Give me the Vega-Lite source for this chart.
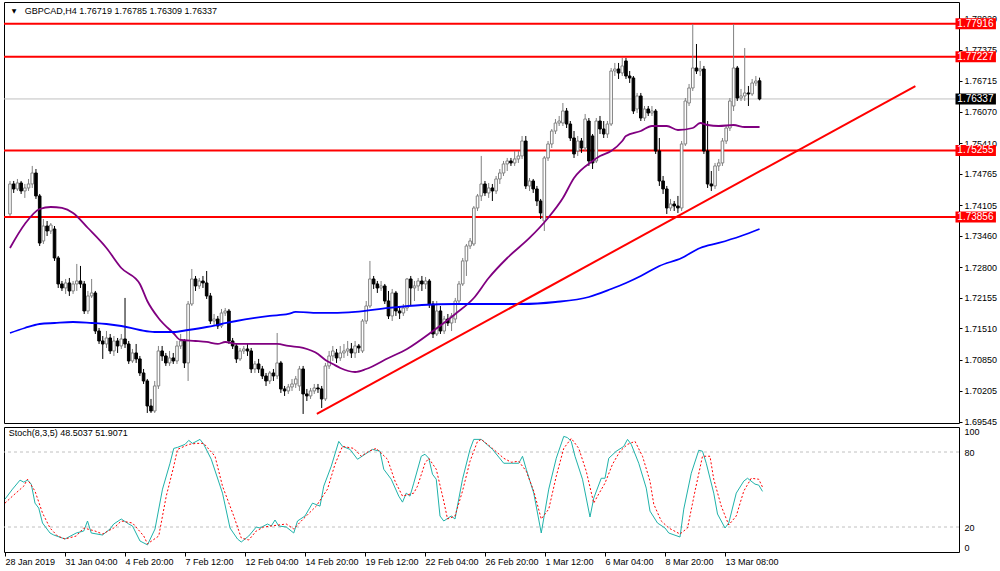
{
"$schema":"https://vega.github.io/schema/vega-lite/v6.json",
"padding":{"left":2,"top":1,"right":0,"bottom":0},
"background":"white",
"spacing":4,
"bounds":"flush",
"config":{"view":{"stroke":"#000000","strokeWidth":1},"font":"Liberation Sans","axis":{"labelFont":"Liberation Sans","labelFontSize":9,"labelColor":"#000000","tickColor":"#000000"}},
"datasets":{
"candles":[
{"i":0,"o":1.73918,"h":1.74612,"l":1.73876,"c":1.74549},
{"i":1,"o":1.74549,"h":1.74612,"l":1.74360,"c":1.74444},
{"i":2,"o":1.74444,"h":1.74654,"l":1.74402,"c":1.74570},
{"i":3,"o":1.74570,"h":1.74612,"l":1.74339,"c":1.74402},
{"i":4,"o":1.74402,"h":1.74549,"l":1.74255,"c":1.74465},
{"i":5,"o":1.74465,"h":1.74654,"l":1.74402,"c":1.74549},
{"i":6,"o":1.74549,"h":1.74928,"l":1.74465,"c":1.74780},
{"i":7,"o":1.74780,"h":1.74864,"l":1.74234,"c":1.74297},
{"i":8,"o":1.74297,"h":1.74339,"l":1.73245,"c":1.73307},
{"i":9,"o":1.73350,"h":1.73812,"l":1.73287,"c":1.73665},
{"i":10,"o":1.73665,"h":1.73770,"l":1.73455,"c":1.73560},
{"i":11,"o":1.73560,"h":1.73728,"l":1.73497,"c":1.73686},
{"i":12,"o":1.73602,"h":1.73665,"l":1.72930,"c":1.72993},
{"i":13,"o":1.72993,"h":1.73035,"l":1.72362,"c":1.72446},
{"i":14,"o":1.72446,"h":1.72509,"l":1.72299,"c":1.72362},
{"i":15,"o":1.72362,"h":1.72551,"l":1.72236,"c":1.72467},
{"i":16,"o":1.72467,"h":1.72572,"l":1.72194,"c":1.72299},
{"i":17,"o":1.72299,"h":1.72509,"l":1.72236,"c":1.72446},
{"i":18,"o":1.72446,"h":1.72867,"l":1.72299,"c":1.72509},
{"i":19,"o":1.72509,"h":1.72825,"l":1.72362,"c":1.72446},
{"i":20,"o":1.72446,"h":1.72509,"l":1.71815,"c":1.71878},
{"i":21,"o":1.71878,"h":1.72299,"l":1.71815,"c":1.72194},
{"i":22,"o":1.72194,"h":1.72551,"l":1.72152,"c":1.72257},
{"i":23,"o":1.72257,"h":1.72299,"l":1.71394,"c":1.71457},
{"i":24,"o":1.71457,"h":1.71520,"l":1.71184,"c":1.71247},
{"i":25,"o":1.71247,"h":1.71352,"l":1.70869,"c":1.71184},
{"i":26,"o":1.71184,"h":1.71457,"l":1.71100,"c":1.71310},
{"i":27,"o":1.71310,"h":1.71394,"l":1.70974,"c":1.71037},
{"i":28,"o":1.71037,"h":1.71352,"l":1.70932,"c":1.71247},
{"i":29,"o":1.71247,"h":1.71310,"l":1.70995,"c":1.71142},
{"i":30,"o":1.71142,"h":1.71394,"l":1.71079,"c":1.71289},
{"i":31,"o":1.71289,"h":1.72152,"l":1.71100,"c":1.71184},
{"i":32,"o":1.71184,"h":1.71247,"l":1.70764,"c":1.70827},
{"i":33,"o":1.70827,"h":1.71079,"l":1.70785,"c":1.70995},
{"i":34,"o":1.70995,"h":1.71184,"l":1.70785,"c":1.70869},
{"i":35,"o":1.70869,"h":1.70932,"l":1.70511,"c":1.70574},
{"i":36,"o":1.70574,"h":1.70658,"l":1.70343,"c":1.70406},
{"i":37,"o":1.70406,"h":1.70448,"l":1.69733,"c":1.69880},
{"i":38,"o":1.69880,"h":1.70028,"l":1.69733,"c":1.69775},
{"i":39,"o":1.69775,"h":1.70406,"l":1.69733,"c":1.70301},
{"i":40,"o":1.70301,"h":1.71142,"l":1.70238,"c":1.71037},
{"i":41,"o":1.71037,"h":1.71142,"l":1.70827,"c":1.70932},
{"i":42,"o":1.70932,"h":1.70995,"l":1.70722,"c":1.70785},
{"i":43,"o":1.70785,"h":1.71037,"l":1.70722,"c":1.70890},
{"i":44,"o":1.70890,"h":1.70995,"l":1.70764,"c":1.70827},
{"i":45,"o":1.70827,"h":1.71247,"l":1.70764,"c":1.71142},
{"i":46,"o":1.71142,"h":1.71394,"l":1.71079,"c":1.71247},
{"i":47,"o":1.71247,"h":1.71289,"l":1.70679,"c":1.70785},
{"i":48,"o":1.70785,"h":1.72088,"l":1.70406,"c":1.72025},
{"i":49,"o":1.72025,"h":1.72761,"l":1.71983,"c":1.72551},
{"i":50,"o":1.72551,"h":1.72614,"l":1.72299,"c":1.72404},
{"i":51,"o":1.72404,"h":1.72572,"l":1.72341,"c":1.72509},
{"i":52,"o":1.72509,"h":1.72614,"l":1.72362,"c":1.72467},
{"i":53,"o":1.72467,"h":1.72719,"l":1.72131,"c":1.72194},
{"i":54,"o":1.72194,"h":1.72257,"l":1.71604,"c":1.71667},
{"i":55,"o":1.71667,"h":1.71815,"l":1.71562,"c":1.71709},
{"i":56,"o":1.71709,"h":1.71773,"l":1.71499,"c":1.71562},
{"i":57,"o":1.71562,"h":1.71920,"l":1.71520,"c":1.71836},
{"i":58,"o":1.71836,"h":1.71941,"l":1.71773,"c":1.71878},
{"i":59,"o":1.71878,"h":1.71920,"l":1.71184,"c":1.71247},
{"i":60,"o":1.71247,"h":1.71310,"l":1.71079,"c":1.71142},
{"i":61,"o":1.71142,"h":1.71184,"l":1.70785,"c":1.70869},
{"i":62,"o":1.70869,"h":1.71100,"l":1.70827,"c":1.71037},
{"i":63,"o":1.71037,"h":1.71142,"l":1.70974,"c":1.71079},
{"i":64,"o":1.71079,"h":1.71184,"l":1.70932,"c":1.71037},
{"i":65,"o":1.71037,"h":1.71100,"l":1.70574,"c":1.70658},
{"i":66,"o":1.70658,"h":1.70827,"l":1.70574,"c":1.70764},
{"i":67,"o":1.70764,"h":1.70869,"l":1.70574,"c":1.70658},
{"i":68,"o":1.70658,"h":1.70722,"l":1.70448,"c":1.70511},
{"i":69,"o":1.70511,"h":1.70574,"l":1.70301,"c":1.70406},
{"i":70,"o":1.70406,"h":1.70616,"l":1.70343,"c":1.70574},
{"i":71,"o":1.70574,"h":1.70658,"l":1.70406,"c":1.70511},
{"i":72,"o":1.70511,"h":1.71415,"l":1.70448,"c":1.70785},
{"i":73,"o":1.70785,"h":1.70827,"l":1.70154,"c":1.70238},
{"i":74,"o":1.70238,"h":1.70301,"l":1.70091,"c":1.70196},
{"i":75,"o":1.70196,"h":1.70343,"l":1.70133,"c":1.70280},
{"i":76,"o":1.70280,"h":1.70448,"l":1.70196,"c":1.70343},
{"i":77,"o":1.70343,"h":1.70511,"l":1.70259,"c":1.70448},
{"i":78,"o":1.70301,"h":1.70722,"l":1.70196,"c":1.70658},
{"i":79,"o":1.70658,"h":1.70722,"l":1.69712,"c":1.70133},
{"i":80,"o":1.70133,"h":1.70238,"l":1.69985,"c":1.70091},
{"i":81,"o":1.70091,"h":1.70259,"l":1.70028,"c":1.70196},
{"i":82,"o":1.70196,"h":1.70343,"l":1.70133,"c":1.70259},
{"i":83,"o":1.70259,"h":1.70343,"l":1.70154,"c":1.70238},
{"i":84,"o":1.70238,"h":1.70301,"l":1.69838,"c":1.70028},
{"i":85,"o":1.70028,"h":1.70785,"l":1.69985,"c":1.70722},
{"i":86,"o":1.70722,"h":1.71037,"l":1.70658,"c":1.70932},
{"i":87,"o":1.70932,"h":1.71142,"l":1.70827,"c":1.71037},
{"i":88,"o":1.70995,"h":1.71079,"l":1.70785,"c":1.70890},
{"i":89,"o":1.70890,"h":1.71142,"l":1.70827,"c":1.70995},
{"i":90,"o":1.70995,"h":1.71184,"l":1.70890,"c":1.71037},
{"i":91,"o":1.71037,"h":1.71247,"l":1.70932,"c":1.71079},
{"i":92,"o":1.71079,"h":1.71205,"l":1.70890,"c":1.70995},
{"i":93,"o":1.70995,"h":1.71247,"l":1.70890,"c":1.71142},
{"i":94,"o":1.71142,"h":1.71184,"l":1.70995,"c":1.71100},
{"i":95,"o":1.71037,"h":1.71709,"l":1.70995,"c":1.71667},
{"i":96,"o":1.71667,"h":1.72088,"l":1.71604,"c":1.71983},
{"i":97,"o":1.71983,"h":1.72930,"l":1.71941,"c":1.72551},
{"i":98,"o":1.72551,"h":1.72614,"l":1.72341,"c":1.72446},
{"i":99,"o":1.72446,"h":1.72509,"l":1.72257,"c":1.72362},
{"i":100,"o":1.72362,"h":1.72509,"l":1.72299,"c":1.72404},
{"i":101,"o":1.72404,"h":1.72446,"l":1.72025,"c":1.72088},
{"i":102,"o":1.72088,"h":1.72299,"l":1.71709,"c":1.71773},
{"i":103,"o":1.71773,"h":1.72341,"l":1.71667,"c":1.72257},
{"i":104,"o":1.72257,"h":1.72299,"l":1.71773,"c":1.71878},
{"i":105,"o":1.71878,"h":1.71983,"l":1.71709,"c":1.71836},
{"i":106,"o":1.71836,"h":1.72025,"l":1.71773,"c":1.71941},
{"i":107,"o":1.71941,"h":1.72572,"l":1.71878,"c":1.72551},
{"i":108,"o":1.72551,"h":1.72614,"l":1.71983,"c":1.72362},
{"i":109,"o":1.72362,"h":1.72509,"l":1.72088,"c":1.72404},
{"i":110,"o":1.72404,"h":1.72572,"l":1.72299,"c":1.72509},
{"i":111,"o":1.72509,"h":1.72614,"l":1.72299,"c":1.72446},
{"i":112,"o":1.72446,"h":1.72593,"l":1.72341,"c":1.72509},
{"i":113,"o":1.72509,"h":1.72551,"l":1.71941,"c":1.72025},
{"i":114,"o":1.72025,"h":1.72088,"l":1.71310,"c":1.71394},
{"i":115,"o":1.71394,"h":1.72088,"l":1.71352,"c":1.71878},
{"i":116,"o":1.71878,"h":1.71983,"l":1.71394,"c":1.71457},
{"i":117,"o":1.71457,"h":1.71773,"l":1.71394,"c":1.71709},
{"i":118,"o":1.71709,"h":1.71815,"l":1.71562,"c":1.71625},
{"i":119,"o":1.71625,"h":1.71836,"l":1.71457,"c":1.71773},
{"i":120,"o":1.71709,"h":1.72152,"l":1.71625,"c":1.72088},
{"i":121,"o":1.72088,"h":1.72509,"l":1.72025,"c":1.72446},
{"i":122,"o":1.72446,"h":1.72993,"l":1.72404,"c":1.72930},
{"i":123,"o":1.72930,"h":1.73287,"l":1.72614,"c":1.73245},
{"i":124,"o":1.73245,"h":1.73413,"l":1.73182,"c":1.73350},
{"i":125,"o":1.73287,"h":1.74086,"l":1.73245,"c":1.74044},
{"i":126,"o":1.74044,"h":1.74339,"l":1.73981,"c":1.74297},
{"i":127,"o":1.74297,"h":1.75138,"l":1.74191,"c":1.74549},
{"i":128,"o":1.74549,"h":1.74612,"l":1.74297,"c":1.74360},
{"i":129,"o":1.74360,"h":1.74570,"l":1.74255,"c":1.74465},
{"i":130,"o":1.74465,"h":1.74549,"l":1.74191,"c":1.74402},
{"i":131,"o":1.74402,"h":1.74717,"l":1.74339,"c":1.74654},
{"i":132,"o":1.74654,"h":1.74864,"l":1.74549,"c":1.74780},
{"i":133,"o":1.74780,"h":1.75033,"l":1.74717,"c":1.74970},
{"i":134,"o":1.74970,"h":1.75096,"l":1.74822,"c":1.75033},
{"i":135,"o":1.75033,"h":1.75096,"l":1.74928,"c":1.74991},
{"i":136,"o":1.74991,"h":1.75243,"l":1.74928,"c":1.75075},
{"i":137,"o":1.75075,"h":1.75243,"l":1.74991,"c":1.75138},
{"i":138,"o":1.75138,"h":1.75558,"l":1.75075,"c":1.75453},
{"i":139,"o":1.75453,"h":1.75558,"l":1.74444,"c":1.74507},
{"i":140,"o":1.74507,"h":1.74675,"l":1.74402,"c":1.74612},
{"i":141,"o":1.74612,"h":1.74654,"l":1.74360,"c":1.74444},
{"i":142,"o":1.74444,"h":1.74507,"l":1.74086,"c":1.74191},
{"i":143,"o":1.74191,"h":1.74234,"l":1.73812,"c":1.73939},
{"i":144,"o":1.73770,"h":1.75138,"l":1.73560,"c":1.75096},
{"i":145,"o":1.75096,"h":1.75453,"l":1.75033,"c":1.75390},
{"i":146,"o":1.75390,"h":1.75705,"l":1.75306,"c":1.75663},
{"i":147,"o":1.75663,"h":1.75915,"l":1.75600,"c":1.75831},
{"i":148,"o":1.75831,"h":1.75979,"l":1.75768,"c":1.75873},
{"i":149,"o":1.75831,"h":1.76252,"l":1.75768,"c":1.76084},
{"i":150,"o":1.76084,"h":1.76147,"l":1.75726,"c":1.75810},
{"i":151,"o":1.75810,"h":1.75873,"l":1.75453,"c":1.75516},
{"i":152,"o":1.75516,"h":1.75663,"l":1.75096,"c":1.75180},
{"i":153,"o":1.75243,"h":1.75558,"l":1.75138,"c":1.75453},
{"i":154,"o":1.75453,"h":1.75516,"l":1.75201,"c":1.75306},
{"i":155,"o":1.75306,"h":1.76021,"l":1.75243,"c":1.75915},
{"i":156,"o":1.75873,"h":1.75936,"l":1.74928,"c":1.75033},
{"i":157,"o":1.75558,"h":1.75600,"l":1.74864,"c":1.74991},
{"i":158,"o":1.75033,"h":1.75936,"l":1.74991,"c":1.75873},
{"i":159,"o":1.75873,"h":1.75979,"l":1.75600,"c":1.75705},
{"i":160,"o":1.75705,"h":1.75873,"l":1.75516,"c":1.75600},
{"i":161,"o":1.75600,"h":1.75873,"l":1.75516,"c":1.75810},
{"i":162,"o":1.75810,"h":1.76988,"l":1.75768,"c":1.76925},
{"i":163,"o":1.76925,"h":1.77094,"l":1.76820,"c":1.76967},
{"i":164,"o":1.76967,"h":1.77094,"l":1.76757,"c":1.76883},
{"i":165,"o":1.76883,"h":1.77199,"l":1.76820,"c":1.77031},
{"i":166,"o":1.77136,"h":1.77199,"l":1.76757,"c":1.76820},
{"i":167,"o":1.76820,"h":1.76925,"l":1.76673,"c":1.76778},
{"i":168,"o":1.76778,"h":1.76820,"l":1.76021,"c":1.76084},
{"i":169,"o":1.76126,"h":1.76463,"l":1.76042,"c":1.76400},
{"i":170,"o":1.76400,"h":1.76463,"l":1.75873,"c":1.75936},
{"i":171,"o":1.75936,"h":1.76189,"l":1.75873,"c":1.76126},
{"i":172,"o":1.76126,"h":1.76189,"l":1.75979,"c":1.76042},
{"i":173,"o":1.76042,"h":1.76189,"l":1.75979,"c":1.76084},
{"i":174,"o":1.76084,"h":1.76126,"l":1.75180,"c":1.75243},
{"i":175,"o":1.75243,"h":1.75516,"l":1.74507,"c":1.74612},
{"i":176,"o":1.74612,"h":1.74717,"l":1.74339,"c":1.74444},
{"i":177,"o":1.74444,"h":1.74507,"l":1.73918,"c":1.74044},
{"i":178,"o":1.74044,"h":1.74234,"l":1.73981,"c":1.74128},
{"i":179,"o":1.74128,"h":1.74191,"l":1.73981,"c":1.74086},
{"i":180,"o":1.74086,"h":1.74297,"l":1.73939,"c":1.74044},
{"i":181,"o":1.74044,"h":1.75453,"l":1.73981,"c":1.75390},
{"i":182,"o":1.75390,"h":1.76357,"l":1.75348,"c":1.76294},
{"i":183,"o":1.76252,"h":1.76652,"l":1.76189,"c":1.76568},
{"i":184,"o":1.76568,"h":1.77913,"l":1.76505,"c":1.76988},
{"i":185,"o":1.76988,"h":1.77493,"l":1.76862,"c":1.76925},
{"i":186,"o":1.76925,"h":1.77136,"l":1.76820,"c":1.76967},
{"i":187,"o":1.76967,"h":1.77031,"l":1.75180,"c":1.75243},
{"i":188,"o":1.75243,"h":1.75873,"l":1.74465,"c":1.74549},
{"i":189,"o":1.74549,"h":1.74822,"l":1.74402,"c":1.74507},
{"i":190,"o":1.74507,"h":1.74991,"l":1.74444,"c":1.74928},
{"i":191,"o":1.74928,"h":1.75075,"l":1.74822,"c":1.74991},
{"i":192,"o":1.74991,"h":1.75516,"l":1.74928,"c":1.75453},
{"i":193,"o":1.75453,"h":1.75768,"l":1.75390,"c":1.75726},
{"i":194,"o":1.75726,"h":1.76357,"l":1.75663,"c":1.76294},
{"i":195,"o":1.76189,"h":1.77913,"l":1.76084,"c":1.76988},
{"i":196,"o":1.76988,"h":1.77031,"l":1.76294,"c":1.76357},
{"i":197,"o":1.76357,"h":1.76547,"l":1.76294,"c":1.76400},
{"i":198,"o":1.76400,"h":1.77409,"l":1.76294,"c":1.76463},
{"i":199,"o":1.76463,"h":1.76610,"l":1.76189,"c":1.76442},
{"i":200,"o":1.76442,"h":1.76757,"l":1.76400,"c":1.76673},
{"i":201,"o":1.76673,"h":1.76820,"l":1.76610,"c":1.76715},
{"i":202,"o":1.76719,"h":1.76785,"l":1.76309,"c":1.76337}
],
"ma50":[
{"i":0,"v":1.73203},{"i":4,"v":1.73707},{"i":8,"v":1.74023},{"i":11,"v":1.74065},{"i":14,"v":1.74044},{"i":17,"v":1.73939},{"i":21,"v":1.73623},{"i":26,"v":1.73203},{"i":30,"v":1.72782},{"i":35,"v":1.72446},{"i":37,"v":1.72088},{"i":40,"v":1.71731},{"i":44,"v":1.71415},{"i":46,"v":1.71268},{"i":50,"v":1.71247},{"i":53,"v":1.71226},{"i":56,"v":1.71184},{"i":58,"v":1.71226},{"i":61,"v":1.71184},{"i":66,"v":1.71184},{"i":72,"v":1.71184},{"i":75,"v":1.71142},{"i":79,"v":1.71100},{"i":83,"v":1.70973},{"i":85,"v":1.70847},{"i":87,"v":1.70763},{"i":89,"v":1.70679},{"i":93,"v":1.70595},{"i":96,"v":1.70658},{"i":102,"v":1.70889},{"i":107,"v":1.71079},{"i":114,"v":1.71457},{"i":120,"v":1.71815},{"i":125,"v":1.72151},{"i":129,"v":1.72572},{"i":134,"v":1.72992},{"i":140,"v":1.73413},{"i":145,"v":1.73834},{"i":149,"v":1.74254},{"i":152,"v":1.74675},{"i":157,"v":1.75032},{"i":159,"v":1.75137},{"i":162,"v":1.75243},{"i":165,"v":1.75453},{"i":166,"v":1.75558},{"i":170,"v":1.75663},{"i":173,"v":1.75768},{"i":177,"v":1.75768},{"i":180,"v":1.75684},{"i":184,"v":1.75726},{"i":186,"v":1.75831},{"i":188,"v":1.75789},{"i":191,"v":1.75768},{"i":195,"v":1.75789},{"i":198,"v":1.75747},{"i":202,"v":1.75747}
],
"ma200":[
{"i":0,"v":1.71415},{"i":4,"v":1.71520},{"i":8,"v":1.71604},{"i":12,"v":1.71625},{"i":17,"v":1.71646},{"i":22,"v":1.71625},{"i":26,"v":1.71604},{"i":30,"v":1.71562},{"i":35,"v":1.71478},{"i":39,"v":1.71436},{"i":44,"v":1.71436},{"i":48,"v":1.71478},{"i":53,"v":1.71541},{"i":57,"v":1.71604},{"i":61,"v":1.71667},{"i":66,"v":1.71731},{"i":70,"v":1.71773},{"i":75,"v":1.71815},{"i":77,"v":1.71857},{"i":83,"v":1.71836},{"i":87,"v":1.71836},{"i":93,"v":1.71857},{"i":102,"v":1.71941},{"i":111,"v":1.72004},{"i":120,"v":1.72025},{"i":129,"v":1.72025},{"i":138,"v":1.72025},{"i":147,"v":1.72067},{"i":156,"v":1.72172},{"i":162,"v":1.72340},{"i":166,"v":1.72467},{"i":170,"v":1.72614},{"i":175,"v":1.72824},{"i":181,"v":1.72992},{"i":186,"v":1.73203},{"i":191,"v":1.73308},{"i":197,"v":1.73455},{"i":202,"v":1.73602}
],
"trend":[{"i":82.7,"v":1.69712},{"i":244,"v":1.76609}],
"tags":[{"price":1.77916,"kind":"level"},{"price":1.77227,"kind":"level"},{"price":1.75255,"kind":"level"},{"price":1.73856,"kind":"level"},{"price":1.76337,"kind":"bid"}],
"stochK":[
{"i":0,"v":42.3},{"i":2,"v":50.3},{"i":4,"v":57.5},{"i":5,"v":55.9},{"i":6,"v":57.5},{"i":7,"v":54.3},{"i":8,"v":39.1},{"i":9,"v":35.1},{"i":10,"v":23.2},{"i":12,"v":15.2},{"i":13,"v":13.6},{"i":16,"v":10.4},{"i":19,"v":15.2},{"i":21,"v":16.8},{"i":22,"v":24.8},{"i":23,"v":15.2},{"i":26,"v":13.6},{"i":28,"v":18.4},{"i":29,"v":22.4},{"i":31,"v":26.4},{"i":33,"v":22.4},{"i":34,"v":20.8},{"i":36,"v":8.8},{"i":38,"v":5.7},{"i":40,"v":18.4},{"i":42,"v":50.3},{"i":44,"v":71.0},{"i":45,"v":82.9},{"i":46,"v":83.7},{"i":48,"v":86.1},{"i":49,"v":89.3},{"i":50,"v":86.9},{"i":52,"v":90.1},{"i":53,"v":86.1},{"i":55,"v":74.2},{"i":58,"v":47.1},{"i":60,"v":19.2},{"i":62,"v":10.4},{"i":63,"v":8.0},{"i":65,"v":12.8},{"i":67,"v":20.0},{"i":68,"v":19.2},{"i":70,"v":22.4},{"i":71,"v":20.8},{"i":72,"v":25.6},{"i":73,"v":20.8},{"i":75,"v":20.0},{"i":77,"v":15.2},{"i":78,"v":24.8},{"i":80,"v":28.8},{"i":82,"v":39.1},{"i":84,"v":36.7},{"i":85,"v":52.7},{"i":87,"v":68.6},{"i":89,"v":88.5},{"i":90,"v":84.5},{"i":92,"v":82.1},{"i":94,"v":74.2},{"i":96,"v":78.2},{"i":98,"v":82.1},{"i":100,"v":80.6},{"i":101,"v":66.2},{"i":103,"v":58.2},{"i":105,"v":44.7},{"i":106,"v":39.9},{"i":107,"v":47.1},{"i":108,"v":44.7},{"i":109,"v":55.1},{"i":111,"v":76.6},{"i":112,"v":78.2},{"i":113,"v":75.0},{"i":114,"v":62.2},{"i":115,"v":58.2},{"i":116,"v":28.8},{"i":117,"v":24.8},{"i":119,"v":28.8},{"i":120,"v":26.4},{"i":122,"v":58.2},{"i":124,"v":82.1},{"i":125,"v":90.1},{"i":127,"v":90.1},{"i":130,"v":82.1},{"i":133,"v":71.0},{"i":135,"v":71.0},{"i":137,"v":71.0},{"i":138,"v":76.6},{"i":139,"v":66.2},{"i":141,"v":47.1},{"i":143,"v":15.2},{"i":145,"v":50.3},{"i":147,"v":75.0},{"i":149,"v":92.5},{"i":150,"v":91.5},{"i":151,"v":88.5},{"i":152,"v":76.6},{"i":154,"v":58.2},{"i":156,"v":28.0},{"i":157,"v":43.1},{"i":159,"v":59.0},{"i":160,"v":59.0},{"i":161,"v":75.0},{"i":163,"v":80.6},{"i":165,"v":84.5},{"i":166,"v":90.1},{"i":167,"v":86.1},{"i":169,"v":71.0},{"i":171,"v":51.1},{"i":172,"v":32.7},{"i":174,"v":23.2},{"i":176,"v":19.2},{"i":177,"v":15.2},{"i":180,"v":12.0},{"i":181,"v":34.3},{"i":183,"v":63.0},{"i":185,"v":81.4},{"i":186,"v":80.6},{"i":187,"v":71.0},{"i":189,"v":47.1},{"i":190,"v":30.4},{"i":192,"v":19.2},{"i":193,"v":23.2},{"i":195,"v":47.1},{"i":197,"v":56.7},{"i":198,"v":59.0},{"i":200,"v":54.3},{"i":201,"v":53.5},{"i":202,"v":48.5}
],
"stochD":[
{"i":0,"v":39.1},{"i":2,"v":44.7},{"i":5,"v":52.7},{"i":6,"v":58.2},{"i":8,"v":48.7},{"i":10,"v":31.2},{"i":12,"v":19.2},{"i":14,"v":12.8},{"i":16,"v":10.4},{"i":19,"v":12.8},{"i":21,"v":19.2},{"i":24,"v":16.8},{"i":26,"v":14.4},{"i":29,"v":19.2},{"i":31,"v":24.8},{"i":34,"v":23.2},{"i":37,"v":12.8},{"i":38,"v":6.5},{"i":41,"v":12.8},{"i":43,"v":44.7},{"i":45,"v":68.6},{"i":46,"v":82.1},{"i":49,"v":86.1},{"i":51,"v":86.9},{"i":53,"v":86.9},{"i":56,"v":76.6},{"i":58,"v":52.7},{"i":61,"v":28.8},{"i":63,"v":11.2},{"i":65,"v":9.6},{"i":67,"v":16.8},{"i":69,"v":20.0},{"i":73,"v":21.6},{"i":75,"v":22.4},{"i":77,"v":18.4},{"i":79,"v":24.8},{"i":83,"v":36.7},{"i":86,"v":50.3},{"i":88,"v":70.2},{"i":90,"v":84.5},{"i":93,"v":82.9},{"i":95,"v":76.6},{"i":97,"v":80.6},{"i":99,"v":82.9},{"i":102,"v":74.2},{"i":104,"v":56.7},{"i":106,"v":44.7},{"i":109,"v":47.1},{"i":110,"v":52.7},{"i":112,"v":71.0},{"i":113,"v":75.0},{"i":115,"v":66.2},{"i":117,"v":40.7},{"i":118,"v":26.4},{"i":120,"v":28.8},{"i":122,"v":48.7},{"i":124,"v":72.6},{"i":126,"v":88.5},{"i":127,"v":90.1},{"i":130,"v":82.9},{"i":133,"v":75.0},{"i":135,"v":71.8},{"i":137,"v":72.6},{"i":139,"v":64.6},{"i":141,"v":48.7},{"i":143,"v":26.4},{"i":145,"v":34.3},{"i":147,"v":60.6},{"i":149,"v":82.9},{"i":151,"v":90.9},{"i":153,"v":82.9},{"i":155,"v":64.6},{"i":157,"v":39.1},{"i":158,"v":44.7},{"i":160,"v":55.1},{"i":162,"v":70.2},{"i":164,"v":80.6},{"i":166,"v":86.1},{"i":168,"v":88.5},{"i":170,"v":76.6},{"i":172,"v":56.7},{"i":173,"v":38.3},{"i":175,"v":24.8},{"i":177,"v":19.2},{"i":180,"v":14.4},{"i":182,"v":19.2},{"i":184,"v":48.7},{"i":186,"v":76.6},{"i":188,"v":76.6},{"i":189,"v":58.2},{"i":191,"v":36.7},{"i":193,"v":21.6},{"i":195,"v":28.8},{"i":197,"v":48.7},{"i":199,"v":59.0},{"i":201,"v":58.2},{"i":202,"v":51.9}
],
"stLevels":[{"v":20},{"v":80}],
"header":[{"t":"GBPCAD,H4  1.76719 1.76785 1.76309 1.76337"}],
"stHeader":[{"t":"Stoch(8,3,5) 48.5037 51.9071"}]
},
"vconcat":[
{
"width":955,"height":421,
"layer":[
{"data":{"name":"tags"},
 "mark":{"type":"rule"},
 "encoding":{
  "y":{"field":"price","type":"quantitative","scale":{"domain":[1.69522,1.78376],"nice":false,"zero":false},
       "axis":{"orient":"right","values":[1.69545,1.70205,1.7085,1.7151,1.72155,1.728,1.7346,1.74105,1.74765,1.7541,1.7607,1.76715,1.77375,1.7802],"tickCount":30,"format":".5f","tickSize":3,"labelPadding":2,"domain":false,"grid":false,"title":null,"labelFlush":false,"labelOverlap":false}},
  "color":{"condition":{"test":"datum.kind=='bid'","value":"#c0c0c0"},"value":"#ff0000"},
  "strokeWidth":{"condition":{"test":"datum.kind=='bid'","value":1},"value":2}
 }},
{"data":{"name":"candles"},
 "mark":{"type":"rule","strokeWidth":1},
 "encoding":{
  "x":{"field":"i","type":"quantitative","scale":{"domain":[-0.267,254.4],"nice":false,"zero":false},"axis":null},
  "y":{"field":"l","type":"quantitative","scale":{"domain":[1.69522,1.78376],"nice":false,"zero":false}},
  "y2":{"field":"h"},
  "color":{"condition":{"test":"datum.c >= datum.o","value":"#808080"},"value":"#000000"}
 }},
{"data":{"name":"candles"},
 "mark":{"type":"bar","size":2.6,"strokeWidth":1,"orient":"vertical"},
 "encoding":{
  "x":{"field":"i","type":"quantitative","scale":{"domain":[-0.267,254.4],"nice":false,"zero":false},"axis":null},
  "y":{"field":"o","type":"quantitative","scale":{"domain":[1.69522,1.78376],"nice":false,"zero":false}},
  "y2":{"field":"c"},
  "fill":{"condition":{"test":"datum.c >= datum.o","value":"#ffffff"},"value":"#000000"},
  "stroke":{"condition":{"test":"datum.c >= datum.o","value":"#808080"},"value":"#000000"}
 }},
{"data":{"name":"ma50"},
 "mark":{"type":"line","color":"#800080","strokeWidth":1.8,"interpolate":"monotone"},
 "encoding":{
  "x":{"field":"i","type":"quantitative","scale":{"domain":[-0.267,254.4],"nice":false,"zero":false},"axis":null},
  "y":{"field":"v","type":"quantitative","scale":{"domain":[1.69522,1.78376],"nice":false,"zero":false}}
 }},
{"data":{"name":"ma200"},
 "mark":{"type":"line","color":"#0000ff","strokeWidth":1.8,"interpolate":"monotone"},
 "encoding":{
  "x":{"field":"i","type":"quantitative","scale":{"domain":[-0.267,254.4],"nice":false,"zero":false},"axis":null},
  "y":{"field":"v","type":"quantitative","scale":{"domain":[1.69522,1.78376],"nice":false,"zero":false}}
 }},
{"data":{"name":"trend"},
 "mark":{"type":"line","color":"#ff0000","strokeWidth":2},
 "encoding":{
  "x":{"field":"i","type":"quantitative","scale":{"domain":[-0.267,254.4],"nice":false,"zero":false},"axis":null},
  "y":{"field":"v","type":"quantitative","scale":{"domain":[1.69522,1.78376],"nice":false,"zero":false}}
 }},
{"data":{"name":"tags"},
 "mark":{"type":"rect","yOffset":-5.5,"y2Offset":5.5},
 "encoding":{
  "x":{"datum":254.8,"type":"quantitative","scale":{"domain":[-0.267,254.4],"nice":false,"zero":false},"axis":null},
  "x2":{"datum":265.7},
  "y":{"field":"price","type":"quantitative","scale":{"domain":[1.69522,1.78376],"nice":false,"zero":false}},
  "y2":{"field":"price"},
  "fill":{"condition":{"test":"datum.kind=='bid'","value":"#000000"},"value":"#ff0000"}
 }},
{"data":{"name":"tags"},
 "mark":{"type":"text","color":"#ffffff","align":"left","baseline":"middle","fontSize":10,"font":"Liberation Sans"},
 "encoding":{
  "x":{"datum":255.3,"type":"quantitative","scale":{"domain":[-0.267,254.4],"nice":false,"zero":false},"axis":null},
  "y":{"field":"price","type":"quantitative","scale":{"domain":[1.69522,1.78376],"nice":false,"zero":false}},
  "text":{"field":"price","type":"quantitative","format":".5f"}
 }},
{"data":{"name":"header"},
 "mark":{"type":"text","color":"#000000","align":"center","baseline":"middle","fontSize":6,"font":"DejaVu Sans","text":"▼"},
 "encoding":{
  "x":{"datum":1.1,"type":"quantitative","scale":{"domain":[-0.267,254.4],"nice":false,"zero":false},"axis":null},
  "y":{"datum":1.78187,"type":"quantitative","scale":{"domain":[1.69522,1.78376],"nice":false,"zero":false}}
 }},
{"data":{"name":"header"},
 "mark":{"type":"text","color":"#000000","align":"left","baseline":"middle","fontSize":9,"font":"Liberation Sans"},
 "encoding":{
  "x":{"datum":4,"type":"quantitative","scale":{"domain":[-0.267,254.4],"nice":false,"zero":false},"axis":null},
  "y":{"datum":1.78187,"type":"quantitative","scale":{"domain":[1.69522,1.78376],"nice":false,"zero":false}},
  "text":{"field":"t"}
 }}
]
},
{
"width":955,"height":125,
"layer":[
{"data":{"name":"stLevels"},
 "mark":{"type":"rule","color":"#c0c0c0","strokeWidth":1,"strokeDash":[3,3]},
 "encoding":{
  "y":{"field":"v","type":"quantitative","scale":{"domain":[0,100],"nice":false,"zero":false},
       "axis":{"orient":"right","values":[0,20,80,100],"tickCount":10,"ticks":false,"labelPadding":5,"domain":false,"grid":false,"title":null,"labelFlush":true,"labelOverlap":false}}
 }},
{"data":{"name":"stochK"},
 "mark":{"type":"line","color":"#20b2aa","strokeWidth":1},
 "encoding":{
  "x":{"field":"i","type":"quantitative","scale":{"domain":[-0.267,254.4],"nice":false,"zero":false},
       "axis":{"orient":"bottom","values":[0,16,32,48,64,80,96,112,128,144,160,176,192],"tickCount":30,"labelExpr":"['28 Jan 2019','31 Jan 04:00','4 Feb 20:00','7 Feb 12:00','12 Feb 04:00','14 Feb 20:00','19 Feb 12:00','22 Feb 04:00','26 Feb 20:00','1 Mar 12:00','6 Mar 04:00','8 Mar 20:00','13 Mar 08:00'][round(datum.value/16)]","tickSize":4,"labelAlign":"left","labelPadding":1,"domain":false,"grid":false,"title":null,"labelFlush":false,"labelOverlap":false,"labelBound":false}},
  "y":{"field":"v","type":"quantitative","scale":{"domain":[0,100],"nice":false,"zero":false}}
 }},
{"data":{"name":"stochD"},
 "mark":{"type":"line","color":"#ff0000","strokeWidth":1,"strokeDash":[2,2]},
 "encoding":{
  "x":{"field":"i","type":"quantitative","scale":{"domain":[-0.267,254.4],"nice":false,"zero":false}},
  "y":{"field":"v","type":"quantitative","scale":{"domain":[0,100],"nice":false,"zero":false}}
 }},
{"data":{"name":"stHeader"},
 "mark":{"type":"text","color":"#000000","align":"left","baseline":"middle","fontSize":9,"font":"Liberation Sans"},
 "encoding":{
  "x":{"datum":1,"type":"quantitative","scale":{"domain":[-0.267,254.4],"nice":false,"zero":false}},
  "y":{"datum":95,"type":"quantitative","scale":{"domain":[0,100],"nice":false,"zero":false}},
  "text":{"field":"t"}
 }}
]
}
]
}
